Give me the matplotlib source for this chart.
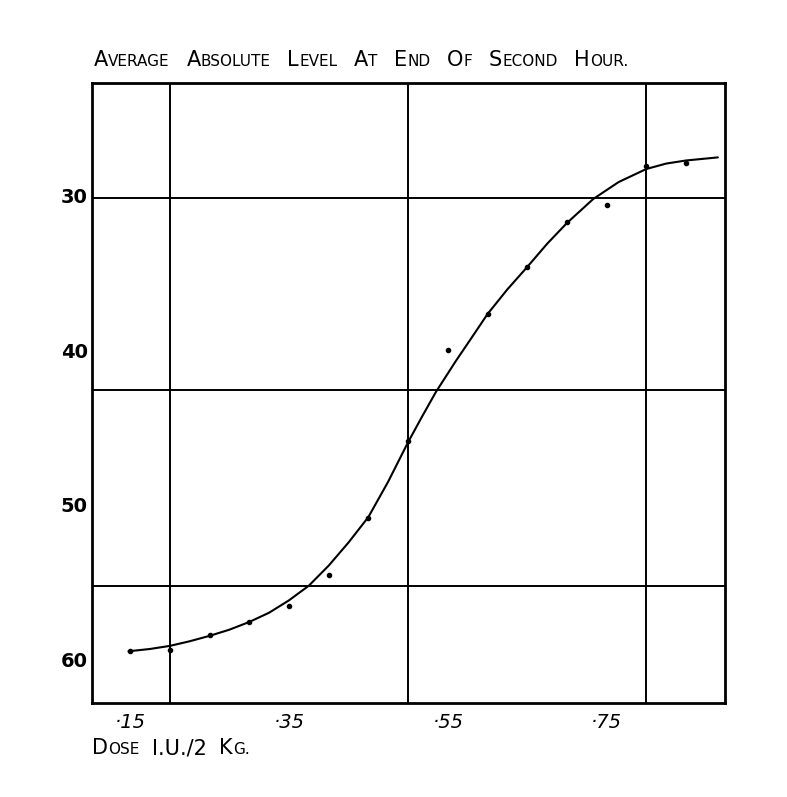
import matplotlib
matplotlib.use("Agg")
import matplotlib.pyplot as plt
from matplotlib.offsetbox import TextArea, HPacker, AnnotationBbox

# ---- data ----
dose = [0.15, 0.20, 0.25, 0.30, 0.35, 0.40, 0.45, 0.50, 0.55, 0.60, 0.65, 0.70, 0.75, 0.80, 0.85]
level = [59.5, 59.4, 58.45, 57.6, 56.55, 54.55, 50.85, 45.9, 39.95, 37.65, 34.6, 31.7, 30.6, 28.05, 27.85]

# smooth hand-drawn curve
curve_x = [0.148, 0.175, 0.20, 0.225, 0.25, 0.275, 0.30, 0.325, 0.35, 0.375, 0.40, 0.425, 0.45,
           0.475, 0.50, 0.5175, 0.535, 0.56, 0.585, 0.60, 0.625, 0.65, 0.675, 0.70, 0.733, 0.765,
           0.80, 0.825, 0.85, 0.89]
curve_y = [59.5, 59.35, 59.15, 58.85, 58.5, 58.1, 57.6, 57.0, 56.2, 55.25, 53.95, 52.45, 50.8,
           48.5, 45.95, 44.3, 42.7, 40.7, 38.8, 37.65, 36.05, 34.6, 33.1, 31.75, 30.2, 29.1,
           28.25, 27.9, 27.7, 27.5]

xtick_vals = [0.15, 0.35, 0.55, 0.75]
xtick_labels = ["\u00b715", "\u00b735", "\u00b755", "\u00b775"]
ytick_vals = [30, 40, 50, 60]
ytick_labels = ["30", "40", "50", "60"]
vgrid = [0.20, 0.50, 0.80]
hgrid = [30.1, 42.6, 55.3]

title_words = ["Average", "Absolute", "Level", "At", "End", "Of", "Second", "Hour."]
xlabel_words = ["Dose", "I.U./2", "Kg."]

plt.rcParams['font.family'] = ['DejaVu Sans']

fig = plt.figure(figsize=(7.87, 7.97), dpi=100)
ax = fig.add_axes([92/787, 1 - 703/797, (725 - 92)/787, (703 - 83)/797])

ax.set_xlim(0.102, 0.899)
ax.set_ylim(62.85, 22.68)

for v in vgrid:
    ax.axvline(v, color='black', lw=1.4)
for h in hgrid:
    ax.axhline(h, color='black', lw=1.4)

ax.plot(curve_x, curve_y, color='black', lw=1.5, solid_capstyle='round', solid_joinstyle='round')
ax.plot(dose, level, 'o', color='black', ms=3)

for s in ax.spines.values():
    s.set_linewidth(2.0)

ax.set_xticks(xtick_vals)
ax.set_xticklabels(xtick_labels, fontsize=14, style='italic')
ax.set_yticks(ytick_vals)
ax.set_yticklabels(ytick_labels, fontsize=14, fontweight='bold')
ax.tick_params(axis='both', length=0)
ax.tick_params(axis='x', pad=7)
ax.tick_params(axis='y', pad=3)


def small_caps(words, big, small, sep):
    groups = []
    for w in words:
        rest = w[1:]
        if rest and rest.replace('.', '').isalpha() and rest.replace('.', '').islower():
            parts = [TextArea(w[0], textprops=dict(size=big, color='black')),
                     TextArea(rest.upper(), textprops=dict(size=small, color='black'))]
        else:
            parts = [TextArea(w, textprops=dict(size=big, color='black'))]
        groups.append(HPacker(children=parts, align='baseline', pad=0, sep=0))
    return HPacker(children=groups, align='baseline', pad=0, sep=sep)


title_box = small_caps(title_words, 15, 11, 12)
ab = AnnotationBbox(title_box, (94, 797 - 70), xycoords='figure pixels',
                    box_alignment=(0, 0), frameon=False, pad=0)
fig.add_artist(ab)

xl_box = small_caps(xlabel_words, 15, 11, 9)
ab2 = AnnotationBbox(xl_box, (92, 797 - 758), xycoords='figure pixels',
                     box_alignment=(0, 0), frameon=False, pad=0)
fig.add_artist(ab2)

fig.savefig("out.png", dpi=100, facecolor='white')
